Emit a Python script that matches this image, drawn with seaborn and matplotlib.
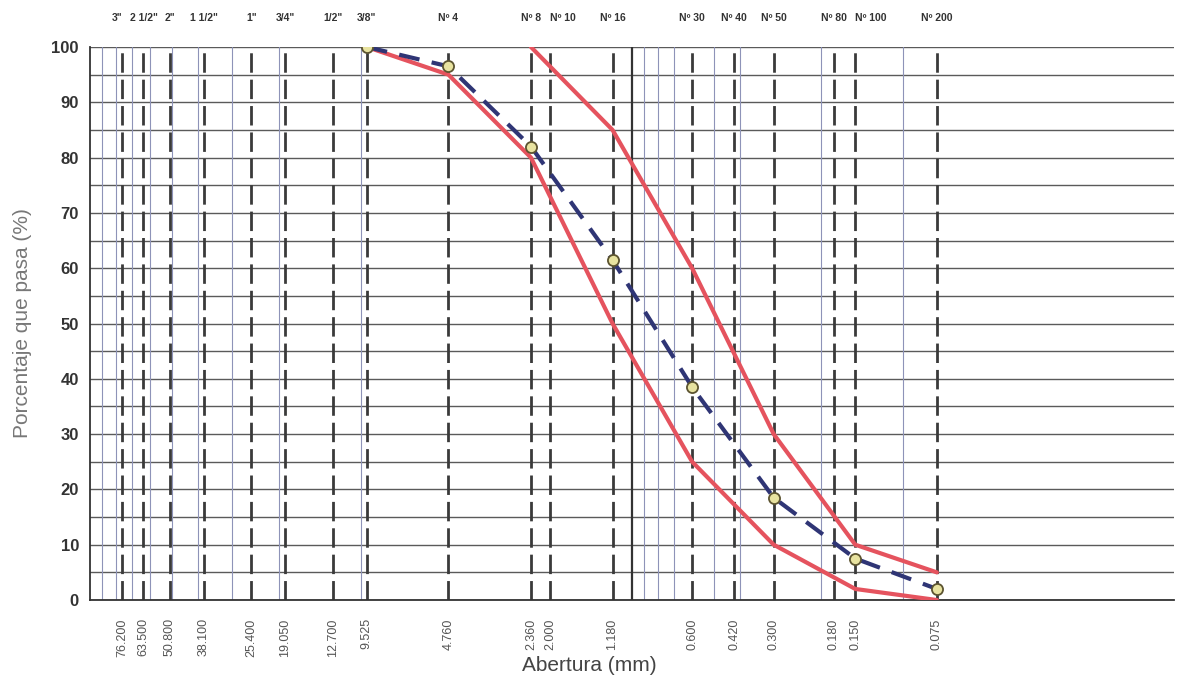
import matplotlib
matplotlib.use('Agg')
import matplotlib.pyplot as plt
import matplotlib.transforms as mtransforms
import seaborn as sns
import pandas as pd

# sieve series (opening in mm, name on top, label below)
sieve_mm = [76.2, 63.5, 50.8, 38.1, 25.4, 19.05, 12.7, 9.525, 4.76,
            2.36, 2.0, 1.18, 0.6, 0.42, 0.3, 0.18, 0.15, 0.075]
sieve_names = ['3"', '2 1/2"', '2"', '1 1/2"', '1"', '3/4"', '1/2"', '3/8"', 'Nº 4',
               'Nº 8', 'Nº 10', 'Nº 16', 'Nº 30', 'Nº 40', 'Nº 50', 'Nº 80', 'Nº 100', 'Nº 200']
sieve_labels = ['76.200', '63.500', '50.800', '38.100', '25.400', '19.050', '12.700', '9.525', '4.760',
                '2.360', '2.000', '1.180', '0.600', '0.420', '0.300', '0.180', '0.150', '0.075']

# sample curve
sample_mm = [9.525, 4.76, 2.36, 1.18, 0.6, 0.3, 0.15, 0.075]
sample_pass = [100, 96.5, 82, 61.5, 38.5, 18.5, 7.5, 2]

# limits of the spec band
lower_mm = [9.525, 4.76, 2.36, 1.18, 0.6, 0.3, 0.15, 0.075]
lower_pass = [100, 95, 80, 50, 25, 10, 2, 0]
upper_mm = [2.36, 1.18, 0.6, 0.3, 0.15, 0.075]
upper_pass = [100, 85, 60, 30, 10, 5]

# thin log grid lines drawn on the sheet
minor_mm = [90, 80, 70, 60, 50, 40, 30, 20, 10, 0.9, 0.8, 0.7, 0.5, 0.4, 0.2, 0.1]

sns.set_theme(style='white')
plt.rcParams['font.family'] = ['Liberation Sans', 'DejaVu Sans']

fig = plt.figure(figsize=(11.86, 6.87), dpi=100)
ax = fig.add_axes([0.0759, 0.1266, 0.914, 0.805])

ax.set_xscale('log')
ax.set_xlim(100, 0.01)
ax.set_ylim(0, 100)

# horizontal grid every 5 %
for y in range(0, 101, 5):
    ax.axhline(y, color='#5a5a5a', lw=1.0, zorder=1)

for x in minor_mm:
    ax.axvline(x, color='#8e93b8', lw=0.8, zorder=1)
ax.axvline(1.0, color='#333333', lw=1.6, zorder=1)

for x in sieve_mm:
    ax.axvline(x, color='#3a3a3a', lw=2.0, linestyle=(0, (7, 2.5)), zorder=2)

lim_df = pd.DataFrame({'mm': lower_mm, 'pass': lower_pass})
up_df = pd.DataFrame({'mm': upper_mm, 'pass': upper_pass})
smp_df = pd.DataFrame({'mm': sample_mm, 'pass': sample_pass})

sns.lineplot(data=lim_df, x='mm', y='pass', ax=ax, color='#e5535e', lw=3, sort=False, zorder=3)
sns.lineplot(data=up_df, x='mm', y='pass', ax=ax, color='#e5535e', lw=3, sort=False, zorder=3)
sns.lineplot(data=smp_df, x='mm', y='pass', ax=ax, color='#2f3575', lw=3, sort=False,
             linestyle=(0, (5, 3)), marker='o', markersize=8,
             markerfacecolor='#e8e3a0', markeredgecolor='#5c5430', markeredgewidth=1.3, zorder=4)

ax.set_xticks([])
ax.set_xticks([], minor=True)
ax.set_yticks(range(0, 101, 10))
ax.set_yticklabels([str(v) for v in range(0, 101, 10)], fontsize=12, fontweight='bold', color='#333333')
ax.tick_params(axis='y', length=0, pad=8)

for side in ['top', 'right']:
    ax.spines[side].set_visible(False)
ax.spines['left'].set_color('#333333')
ax.spines['bottom'].set_color('#333333')
ax.spines['left'].set_linewidth(1.3)
ax.spines['bottom'].set_linewidth(1.3)

trans = mtransforms.blended_transform_factory(ax.transData, ax.transAxes)
for x, name, lab in zip(sieve_mm, sieve_names, sieve_labels):
    # names with a close neighbour are pushed aside instead of centered
    ha = 'center'
    if name in ('Nº 10', 'Nº 100'):
        ha = 'left'
    elif name == '3"':
        ha = 'right'
    ax.text(x, 1.052, name, transform=trans, ha=ha, va='center',
            fontsize=7.5, fontweight='bold', color='#333333')
    ax.text(x, -0.033, lab, transform=trans, ha='center', va='top', rotation=90,
            fontsize=9, color='#555555')

ax.set_xlabel('')
ax.set_ylabel('Porcentaje que pasa (%)', fontsize=15, color='#777777', labelpad=14)
fig.text(0.497, 0.018, 'Abertura (mm)', ha='center', va='bottom', fontsize=15, color='#444444')

plt.savefig('out.png', dpi=100)
